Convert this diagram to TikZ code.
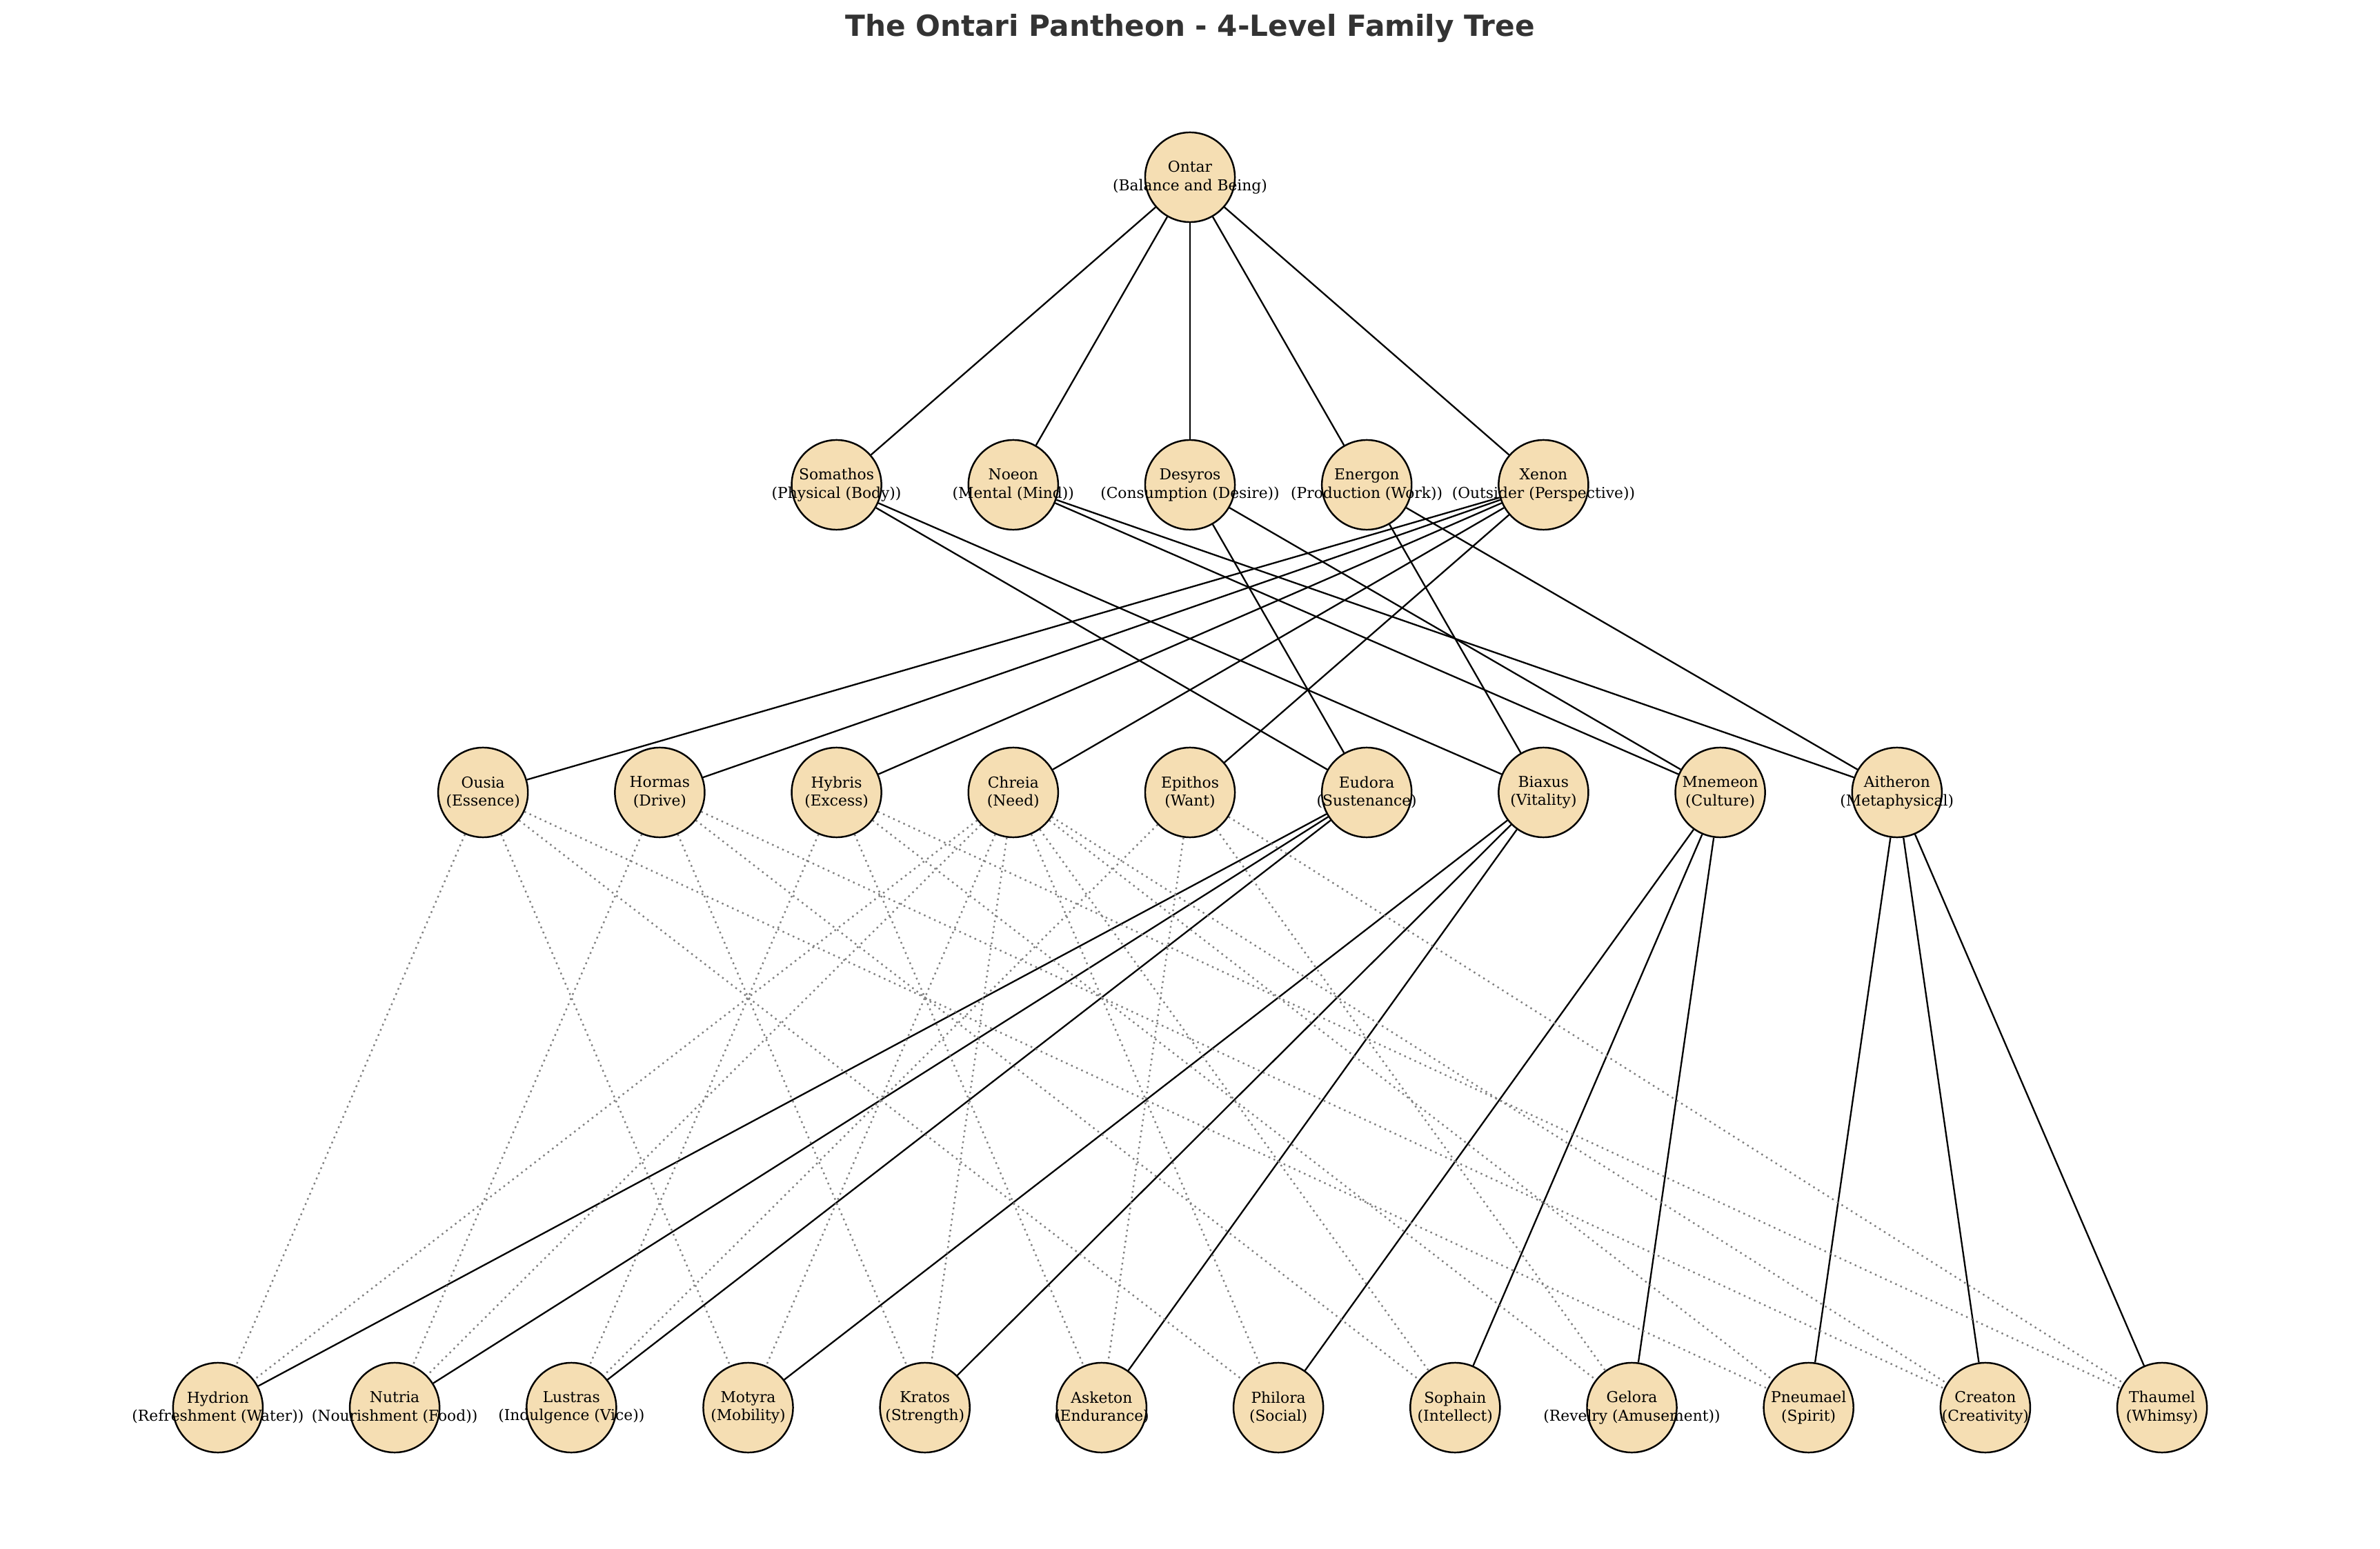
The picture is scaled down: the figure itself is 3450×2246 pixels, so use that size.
\documentclass[tikz,border=0pt]{standalone}
\usepackage{fontspec}
\setmainfont{DejaVu Serif}
\newfontfamily\headfont{DejaVu Sans}
\usetikzlibrary{backgrounds}
\definecolor{wheat}{HTML}{F5DEB3}
\definecolor{headgray}{HTML}{333333}
\begin{document}
\begin{tikzpicture}[x=0.01cm,y=-0.01cm,
	god/.style={circle,draw=black,line width=0.7pt,fill=wheat,minimum size=1.3cm,inner sep=0pt},
	godname/.style={align=center,inner sep=0pt,font=\fontsize{6.2}{7.6}\selectfont},
	kin/.style={black,line width=0.66pt},
	bond/.style={gray,line width=0.7pt,dash pattern=on 0.7pt off 1.6pt}]
	\useasboundingbox (0,0) rectangle (3450,2246);
	\node[anchor=base,text=headgray,font=\headfont\bfseries\fontsize{12}{14}\selectfont] (head) at (1725,53) {The Ontari Pantheon - 4-Level Family Tree};
	% level 1
	\node[god] (Ontar) at (1725,257) {};
	\node[godname] at (Ontar) {Ontar\\(Balance and Being)};
	% level 2
	\foreach \n/\r [count=\i from 0] in {Somathos/Physical (Body),Noeon/Mental (Mind),Desyros/Consumption (Desire),Energon/Production (Work),Xenon/Outsider (Perspective)}{
		\node[god] (\n) at ({1725+256.2*(\i-2)},703) {};
		\node[godname] at (\n) {\n\\(\r)};
	}
	% level 3
	\foreach \n/\r [count=\i from 0] in {Ousia/Essence,Hormas/Drive,Hybris/Excess,Chreia/Need,Epithos/Want,Eudora/Sustenance,Biaxus/Vitality,Mnemeon/Culture,Aitheron/Metaphysical}{
		\node[god] (\n) at ({1725+256.2*(\i-4)},1149) {};
		\node[godname] at (\n) {\n\\(\r)};
	}
	% level 4
	\foreach \n/\r [count=\i from 0] in {Hydrion/Refreshment (Water),Nutria/Nourishment (Food),Lustras/Indulgence (Vice),Motyra/Mobility,Kratos/Strength,Asketon/Endurance,Philora/Social,Sophain/Intellect,Gelora/Revelry (Amusement),Pneumael/Spirit,Creaton/Creativity,Thaumel/Whimsy}{
		\node[god] (\n) at ({1725+256.2*(\i-5.5)},2041) {};
		\node[godname] at (\n) {\n\\(\r)};
	}
	\begin{pgfonlayer}{background}
		\foreach \c in {Somathos,Noeon,Desyros,Energon,Xenon}
			\draw[kin] (Ontar) -- (\c);
		\foreach \a/\b in {Somathos/Eudora,Somathos/Biaxus,Noeon/Mnemeon,Noeon/Aitheron,Desyros/Eudora,Desyros/Mnemeon,Energon/Biaxus,Energon/Aitheron,Xenon/Ousia,Xenon/Hormas,Xenon/Hybris,Xenon/Chreia,Xenon/Epithos}
			\draw[kin] (\a) -- (\b);
		\foreach \a/\b in {Eudora/Hydrion,Eudora/Nutria,Eudora/Lustras,Biaxus/Motyra,Biaxus/Kratos,Biaxus/Asketon,Mnemeon/Philora,Mnemeon/Sophain,Mnemeon/Gelora,Aitheron/Pneumael,Aitheron/Creaton,Aitheron/Thaumel}
			\draw[kin] (\a) -- (\b);
		% dotted ties
		\foreach \a/\b in {Ousia/Hydrion,Ousia/Motyra,Ousia/Philora,Ousia/Pneumael,Hormas/Nutria,Hormas/Kratos,Hormas/Sophain,Hormas/Creaton,Hybris/Lustras,Hybris/Asketon,Hybris/Gelora,Hybris/Thaumel,Chreia/Hydrion,Chreia/Nutria,Chreia/Motyra,Chreia/Kratos,Chreia/Philora,Chreia/Sophain,Chreia/Pneumael,Chreia/Creaton,Epithos/Lustras,Epithos/Asketon,Epithos/Gelora,Epithos/Thaumel}
			\draw[bond] (\a) -- (\b);
	\end{pgfonlayer}
\end{tikzpicture}
\end{document}
